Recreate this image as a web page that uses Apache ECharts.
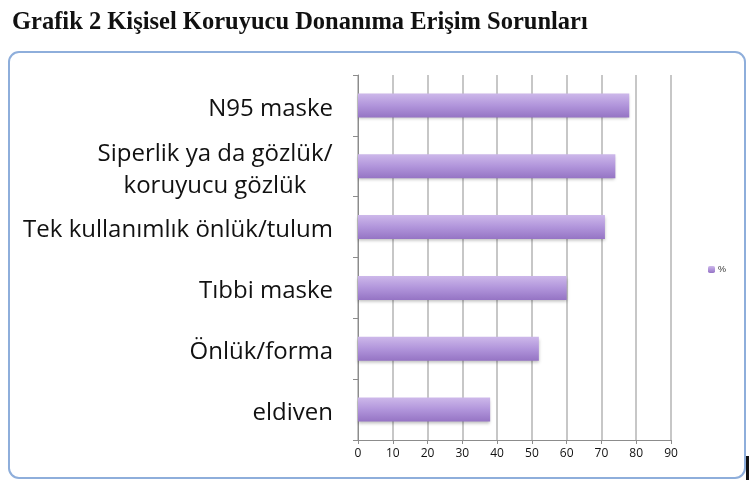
<!DOCTYPE html>
<html>
<head>
    <meta charset="utf-8"/>
    <title>Grafik 2</title>
    <script src="https://cdn.jsdelivr.net/npm/echarts@6/dist/echarts.min.js"></script>
    <style>
        html, body { margin: 0; padding: 0; background: #fff; }
        #main { width: 755px; height: 489px; }
    </style>
</head>
<body>
    <div id="main"></div>
    <script type="text/javascript">
        // veriler
        var kategoriler = ['N95 maske', 'Siperlik ya da gözlük/\nkoruyucu gözlük', 'Tek kullanımlık önlük/tulum', 'Tıbbi maske', 'Önlük/forma', 'eldiven'];
        var yuzdeler = [78, 74, 71, 60, 52, 38];
        var seriAdi = '%';

        var myChart = echarts.init(document.getElementById('main'));

        var option = {
            animation: false,
            title: {
                text: 'Grafik 2 Kişisel Koruyucu Donanıma Erişim Sorunları',
                left: 7,
                top: 5,
                textStyle: {
                    fontFamily: 'Liberation Serif',
                    fontWeight: 'bold',
                    fontSize: 24.5,
                    color: '#111'
                }
            },
            graphic: [
                {
                    type: 'rect',
                    shape: { x: 9, y: 52, width: 736, height: 426, r: 10 },
                    style: { fill: 'none', stroke: '#8eaedb', lineWidth: 2 },
                    z: -1
                },
                {
                    type: 'rect',
                    shape: { x: 746, y: 456, width: 3, height: 24 },
                    style: { fill: '#111' }
                }
            ],
            legend: {
                orient: 'vertical',
                left: 703,
                top: 260,
                itemWidth: 7,
                itemHeight: 7,
                itemGap: 4,
                textStyle: { fontSize: 9, color: '#333', fontFamily: 'Liberation Sans', padding: [0, 0, 0, -2] },
                data: [seriAdi]
            },
            grid: {
                left: 358,
                right: 84,
                top: 75,
                bottom: 49,
                containLabel: false
            },
            xAxis: {
                type: 'value',
                min: 0,
                max: 90,
                interval: 10,
                axisLine: { show: true, lineStyle: { color: '#8c8c8c', width: 1 } },
                axisTick: { show: true, length: 4, lineStyle: { color: '#8c8c8c' } },
                splitLine: { show: true, lineStyle: { color: '#b4b4b4', width: 1.5 } },
                axisLabel: { fontSize: 12, color: '#111', margin: 8, fontFamily: 'Open Sans' }
            },
            yAxis: {
                type: 'category',
                inverse: true,
                data: kategoriler,
                axisLine: { show: true, lineStyle: { color: '#8c8c8c', width: 1 } },
                axisTick: { show: true, length: 5, lineStyle: { color: '#8c8c8c' } },
                axisLabel: {
                    fontSize: 24,
                    color: '#111',
                    margin: 25,
                    fontFamily: 'Open Sans',
                    lineHeight: 32,
                    padding: [7, 0, 0, 0],
                    formatter: function (v) {
                        if (v.indexOf('\n') > -1) {
                            var p = v.split('\n');
                            return '{c|' + p[0] + '}\n{c|' + p[1] + '}';
                        }
                        return v;
                    },
                    rich: {
                        c: { fontSize: 24, fontFamily: 'Open Sans', color: '#111', width: 236, align: 'center', lineHeight: 32 }
                    }
                }
            },
            series: [
                {
                    name: seriAdi,
                    type: 'bar',
                    data: yuzdeler,
                    barWidth: 24,
                    itemStyle: {
                        color: new echarts.graphic.LinearGradient(0, 0, 0, 1, [
                            { offset: 0, color: '#cdb8ea' },
                            { offset: 0.5, color: '#b195db' },
                            { offset: 1, color: '#9574c4' }
                        ]),
                        shadowColor: 'rgba(0,0,0,0.25)',
                        shadowBlur: 3,
                        shadowOffsetY: 2
                    }
                }
            ]
        };

        myChart.setOption(option);
    </script>
</body>
</html>
